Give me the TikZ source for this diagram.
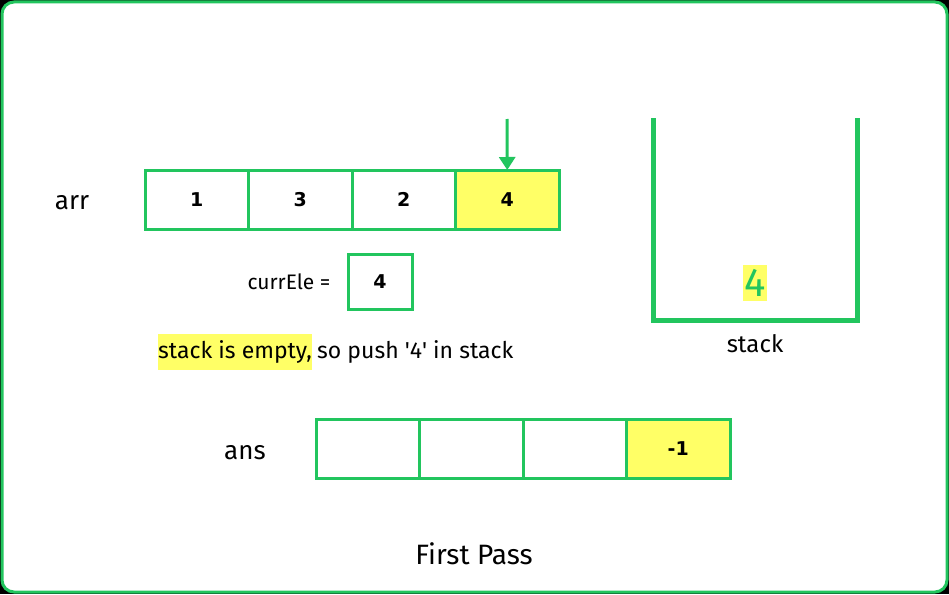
\documentclass[tikz,border=0pt]{standalone}
\usepackage{fontspec}
\setmainfont{Fira Sans}
\newfontfamily\numfont{DejaVu Sans}
\usetikzlibrary{arrows.meta}
\definecolor{gfg}{RGB}{34,197,94}
\definecolor{hl}{RGB}{255,255,102}
\begin{document}
\begin{tikzpicture}[x=1pt,y=-1pt,
  cell/.style={draw=gfg,line width=3pt,outer sep=0pt,minimum width=103.5pt,minimum height=59pt,inner sep=0pt,font=\numfont\bfseries\fontsize{19}{22}\selectfont,anchor=north west},
  hcell/.style={cell,fill=hl},
  lbl/.style={font=\fontsize{26}{30}\selectfont},
  txt/.style={font=\fontsize{23}{27}\selectfont}]
\fill[black] (0,0) rectangle (949,594);
\draw[gfg,line width=3pt,fill=white,rounded corners=12pt] (2,2) rectangle (947,592);
% arr
\node[lbl] (arrl) at (72,203) {arr};
\node[cell] (a1) at (145,170) {1};
\node[cell] (a2) at (248.5,170) {3};
\node[cell] (a3) at (352,170) {2};
\node[hcell] (a4) at (455.5,170) {4};
\coordinate (arrtop) at (507,119);
\draw[gfg,line width=3pt,-{Triangle[length=13pt,width=16pt]}] (arrtop) -- (a4.north);
% currEle
\node[font=\fontsize{21}{25}\selectfont] (ce) at (289,282) {currEle =};
\node[cell,minimum width=64pt,minimum height=55pt] (cebox) at (348,254) {4};
% message
\node[txt,fill=hl,anchor=west,inner xsep=0pt,inner ysep=0pt,minimum height=36pt] (msg1) at (158,352) {stack is empty,};
\node[txt,anchor=base west,inner xsep=0pt] (msg2) at ([xshift=5pt]msg1.base east) {so push \textquotesingle 4\textquotesingle\ in stack};
% stack
\coordinate (s1) at (653,118);
\coordinate (s2) at (653,320);
\coordinate (s3) at (857,320);
\coordinate (s4) at (857,118);
\draw[gfg,line width=5pt] (s1) -- (s2) -- (s3) -- (s4);
\node[fill=hl,text=gfg,inner xsep=1pt,inner ysep=4pt,font=\fontsize{40}{42}\selectfont] (sv) at (755,283) {4};
\node[font=\fontsize{24}{28}\selectfont] (sl) at (755,344) {stack};
% ans
\node[lbl] (ansl) at (245,453) {ans};
\node[cell] (b1) at (316,419) {};
\node[cell] (b2) at (419.5,419) {};
\node[cell] (b3) at (523,419) {};
\node[hcell] (b4) at (626.5,419) {-1};
% caption
\node[font=\fontsize{28}{32}\selectfont] (cap) at (474,554) {First Pass};
\end{tikzpicture}
\end{document}
